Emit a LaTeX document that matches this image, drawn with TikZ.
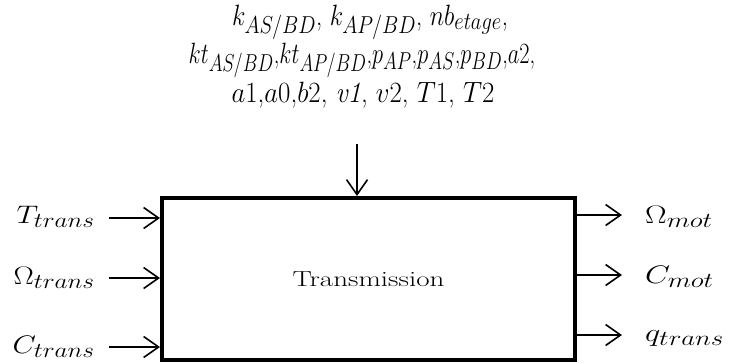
\documentclass[tikz,border=0pt]{standalone}
\usetikzlibrary{arrows.meta}
\newcommand{\sizedbox}[3]{\scalebox{#1}[#2]{#3}}
\begin{document}
\begin{tikzpicture}[x=1pt,y=-1pt,
  sig/.style={line width=1.6pt,-{Straight Barb[length=15pt,width=21pt,line width=1.6pt]}},
  lbl/.style={inner sep=0pt,font=\fontsize{24.88}{30}\selectfont},
  top/.style={inner sep=0pt,font=\fontsize{24.88}{30}\selectfont}]
\useasboundingbox (0,0) rectangle (729,362);
\node[draw,line width=4pt,minimum width=413pt,minimum height=162pt,inner sep=0pt,anchor=north west,
  font=\fontsize{20.74}{25}\selectfont] (box) at (160,196) {\sizedbox{1.4}{1.05}{Transmission}};
% top parameters
\node[top,anchor=base] (t1) at (370,25) {\sizedbox{0.99}{1.18}{$k_{AS/BD}$, $k_{AP/BD}$, $nb_{etage}$,}};
\node[top,anchor=base] (t2) at (362,63) {\sizedbox{0.9}{1.18}{$kt_{AS/BD}$,$kt_{AP/BD}$,$p_{AP}$,$p_{AS}$,$p_{BD}$,$a2$,}};
\node[top,anchor=base] (t3) at (363,102) {\sizedbox{1.08}{1.18}{$a1$,$a0$,$b2$, \textit{v1}, $v2$, $T1$, $T2$}};
\coordinate (pin) at (357,144);
\draw[sig] (pin) -- (pin |- box.north);
% inputs
\coordinate (i1) at (109,218);
\coordinate (i2) at (109,278);
\coordinate (i3) at (109,347);
\node[lbl,anchor=base east] (l1) at (95,223) {\sizedbox{1.22}{1.02}{$T_{trans}$}};
\node[lbl,anchor=base east] (l2) at (95,284) {\sizedbox{1.22}{1.02}{$\Omega_{trans}$}};
\node[lbl,anchor=base east] (l3) at (95,353) {\sizedbox{1.22}{1.02}{$C_{trans}$}};
\draw[sig] (i1) -- (i1 -| box.west);
\draw[sig] (i2) -- (i2 -| box.west);
\draw[sig] (i3) -- (i3 -| box.west);
% outputs
\coordinate (o1) at (622,215);
\coordinate (o2) at (622,275);
\coordinate (o3) at (622,335);
\draw[sig] (o1 -| box.east) -- (o1);
\draw[sig] (o2 -| box.east) -- (o2);
\draw[sig] (o3 -| box.east) -- (o3);
\node[lbl,anchor=base west] (r1) at (645,223) {\sizedbox{1.3}{1.02}{$\Omega_{mot}$}};
\node[lbl,anchor=base west] (r2) at (645,283) {\sizedbox{1.3}{1.02}{$C_{mot}$}};
\node[lbl,anchor=base west] (r3) at (645,341) {\sizedbox{1.3}{1.02}{$q_{trans}$}};
\end{tikzpicture}
\end{document}
